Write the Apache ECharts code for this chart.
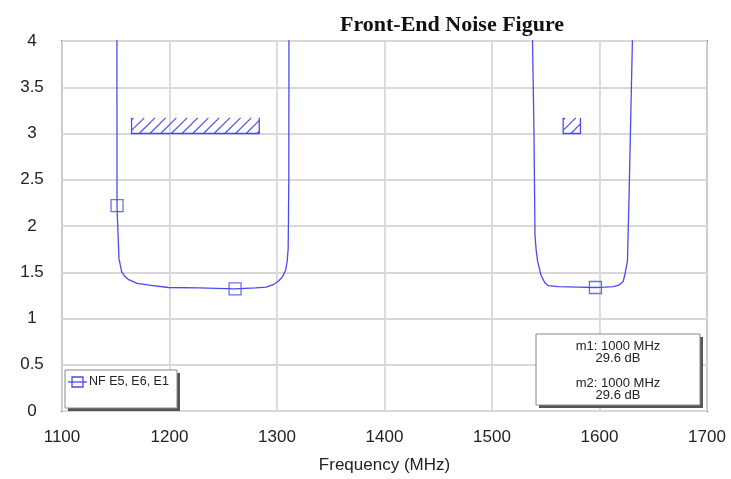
<!DOCTYPE html>
<html><head><meta charset="utf-8">
<script src="https://cdn.jsdelivr.net/npm/echarts@6/dist/echarts.min.js"></script>
<style>html,body{margin:0;padding:0;background:#fff}#c{width:731px;height:479px}</style>
</head><body><div id="c"></div>
<script>
// Data
var titleText = 'Front-End Noise Figure';
var xTicks = [1100, 1200, 1300, 1400, 1500, 1600, 1700];
var yTicks = [0, 0.5, 1, 1.5, 2, 2.5, 3, 3.5, 4];
var seriesName = 'NF E5, E6, E1';
var band1Freq = [1151.0, 1151.1, 1151.2, 1151.5, 1152.5, 1153.0, 1155.4, 1158, 1162, 1170, 1181, 1199, 1227, 1261, 1280, 1290, 1297, 1301, 1305, 1308, 1309.5, 1310.4, 1311.0, 1311.1, 1311.1];
var band1NF   = [5.0, 4.0, 2.22, 2.10, 1.80, 1.65, 1.51, 1.46, 1.42, 1.38, 1.36, 1.335, 1.33, 1.32, 1.33, 1.34, 1.37, 1.40, 1.45, 1.52, 1.62, 1.76, 2.5, 4.0, 5.0];
var band2Freq = [1537.5, 1537.7, 1539.0, 1540.0, 1541.0, 1542.4, 1545.5, 1549, 1552.3, 1561.6, 1580, 1596.2, 1605, 1612.7, 1618, 1622, 1623.5, 1626, 1627.5, 1629.1, 1630.6, 1630.7];
var band2NF   = [5.0, 4.0, 3.05, 1.90, 1.75, 1.62, 1.47, 1.39, 1.355, 1.345, 1.34, 1.335, 1.34, 1.345, 1.36, 1.40, 1.47, 1.62, 2.33, 3.19, 4.0, 5.0];
var markerFreq = [1151.2, 1261, 1596.2];
var markerNF = [2.22, 1.32, 1.335];
var maskStart = [1164.7, 1566.2];
var maskEnd = [1283.5, 1582.3];
var maskLow = [3.0, 3.0];
var maskHigh = [3.17, 3.17];
var markerLines = ['m1: 1000 MHz', '29.6 dB', 'm2: 1000 MHz', '29.6 dB'];

var blue = '#4a4af0';
function pairs(a, b) { return a.map(function (v, i) { return [v, b[i]]; }); }
var band1 = pairs(band1Freq, band1NF);
var band2 = pairs(band2Freq, band2NF);
var markers = pairs(markerFreq, markerNF);
var masks = maskStart.map(function (s, i) { return [s, maskEnd[i], maskLow[i], maskHigh[i]]; });

var chart = echarts.init(document.getElementById('c'), null, {renderer: 'canvas'});
var font = 'Liberation Sans, Arial, sans-serif';

function renderMask(params, api) {
  var p0 = api.coord([api.value(0), api.value(2)]);
  var p1 = api.coord([api.value(1), api.value(3)]);
  var x0 = p0[0], x1 = p1[0], yb = p0[1], yt = p1[1];
  var h = yb - yt, step = 10.7;
  var children = [{
    type: 'polyline',
    shape: {points: [[x0, yt], [x0, yb], [x1, yb], [x1, yt]]},
    style: {stroke: blue, fill: null, lineWidth: 1.3}
  }];
  for (var xb = x0 - h + 2; xb < x1; xb += step) {
    var sx = xb, sy = yb, ex = xb + h, ey = yt;
    if (sx < x0) { sy = yb - (x0 - sx); sx = x0; }
    if (ex > x1) { ey = yb - (x1 - xb); ex = x1; }
    if (ex <= sx) continue;
    children.push({type: 'line', shape: {x1: sx, y1: sy, x2: ex, y2: ey}, style: {stroke: blue, lineWidth: 1.1}});
  }
  return {type: 'group', children: children};
}

function box(x, y, w, h) {
  return [
    {type: 'rect', z: 100, shape: {x: x + 3, y: y + 3, width: w, height: h}, style: {fill: '#555'}},
    {type: 'rect', z: 101, shape: {x: x, y: y, width: w, height: h}, style: {fill: '#fff', stroke: '#888', lineWidth: 1}}
  ];
}
function txt(x, y, s, size, align) {
  return {type: 'text', z: 102, x: x, y: y, style: {text: s, align: align || 'center', verticalAlign: 'middle', font: size + 'px ' + font, fill: '#222'}};
}

var graphics = [].concat(
  box(65, 370, 112, 38),
  [
    {type: 'line', z: 102, shape: {x1: 68, y1: 382, x2: 87, y2: 382}, style: {stroke: blue, lineWidth: 1.3}},
    {type: 'rect', z: 102, shape: {x: 72, y: 377, width: 11, height: 10}, style: {fill: null, stroke: blue, lineWidth: 1.3}},
    txt(89, 382, seriesName, 12.5, 'left')
  ],
  box(536, 334, 164, 71),
  [
    txt(618, 346, markerLines[0], 13),
    txt(618, 358, markerLines[1], 13),
    txt(618, 383, markerLines[2], 13),
    txt(618, 395, markerLines[3], 13)
  ]
);

chart.setOption({
  animation: false,
  backgroundColor: '#fff',
  title: {
    text: titleText, left: 335, top: 9,
    textStyle: {fontFamily: 'Liberation Serif, Times New Roman, serif', fontWeight: 'bold', fontSize: 22, color: '#111'}
  },
  grid: {left: 62, right: 24, top: 41, bottom: 65, show: true, borderColor: '#666', borderWidth: 2, backgroundColor: 'transparent'},
  xAxis: {
    type: 'value', min: xTicks[0], max: xTicks[xTicks.length - 1], interval: 100,
    name: 'Frequency (MHz)', nameLocation: 'middle', nameGap: 46,
    nameTextStyle: {fontFamily: font, fontSize: 17, color: '#222'},
    axisLine: {show: false}, axisTick: {show: false},
    axisLabel: {fontFamily: font, fontSize: 17, color: '#222', margin: 18, formatter: function (v) { return String(v); }},
    splitLine: {show: true, lineStyle: {color: '#d8d8d8', width: 1.8}}
  },
  yAxis: {
    type: 'value', min: yTicks[0], max: yTicks[yTicks.length - 1], interval: 0.5,
    axisLine: {show: false}, axisTick: {show: false},
    axisLabel: {fontFamily: font, fontSize: 17, color: '#222', margin: 30, align: 'center', formatter: function (v) { return String(v); }},
    splitLine: {show: true, lineStyle: {color: '#d8d8d8', width: 1.8}}
  },
  graphic: graphics,
  series: [
    {name: seriesName, type: 'line', data: band1, showSymbol: false, clip: true,
     lineStyle: {color: blue, width: 1.3}, itemStyle: {color: blue}},
    {name: seriesName, type: 'line', data: band2, showSymbol: false, clip: true,
     lineStyle: {color: blue, width: 1.3}, itemStyle: {color: blue}},
    {name: 'markers', type: 'scatter', data: markers, symbol: 'rect', symbolSize: 12,
     itemStyle: {color: 'rgba(0,0,0,0)', borderColor: blue, borderWidth: 1.3}},
    {name: 'mask', type: 'custom', data: masks, renderItem: renderMask, clip: true, silent: true}
  ]
});
</script></body></html>
